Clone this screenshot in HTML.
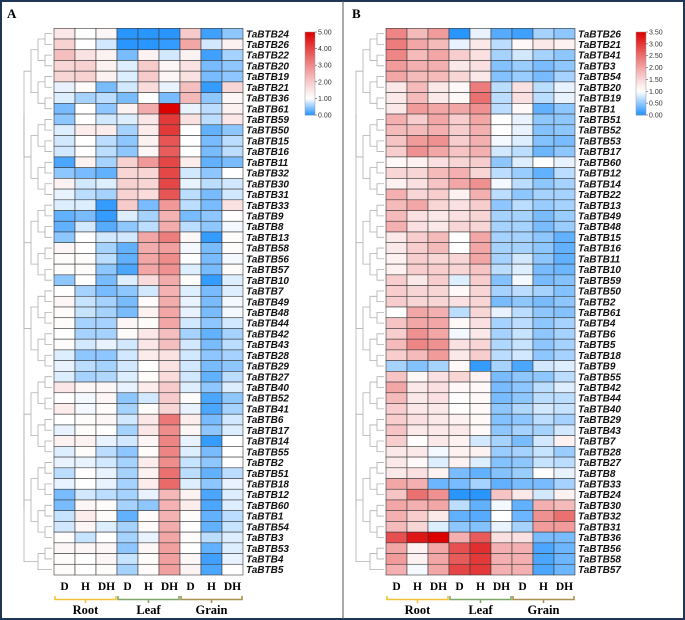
<!DOCTYPE html>
<html><head><meta charset="utf-8"><style>
body{margin:0;background:#fff}
svg{display:block}
</style></head><body>
<svg id="fig" width="685" height="620" xmlns="http://www.w3.org/2000/svg"></svg>
<script>
const genesA=["TaBTB24","TaBTB26","TaBTB22","TaBTB20","TaBTB19","TaBTB21","TaBTB36","TaBTB61","TaBTB59","TaBTB50","TaBTB15","TaBTB16","TaBTB11","TaBTB32","TaBTB30","TaBTB31","TaBTB33","TaBTB9","TaBTB8","TaBTB13","TaBTB58","TaBTB56","TaBTB57","TaBTB10","TaBTB7","TaBTB49","TaBTB48","TaBTB44","TaBTB42","TaBTB43","TaBTB28","TaBTB29","TaBTB27","TaBTB40","TaBTB52","TaBTB41","TaBTB6","TaBTB17","TaBTB14","TaBTB55","TaBTB2","TaBTB51","TaBTB18","TaBTB12","TaBTB60","TaBTB1","TaBTB54","TaBTB3","TaBTB53","TaBTB4","TaBTB5"];
const valuesA=[
[1.5,1.0,1.2,0.05,0.05,0.05,2.0,0.15,0.5],[1.9,1.0,0.8,0.05,0.05,0.1,2.6,0.8,1.3],[2.2,1.6,1.3,0.4,1.3,0.8,1.3,0.15,0.6],
[1.8,1.9,1.3,0.85,2.0,1.2,1.6,0.4,0.5],[1.8,1.9,1.3,0.85,2.0,1.2,1.6,0.4,0.5],[0.9,1.1,0.4,0.8,1.7,0.9,2.2,0.1,1.8],
[0.85,0.6,0.7,0.4,1.0,0.4,2.3,0.5,1.2],[0.4,1.0,0.5,1.3,2.5,5.0,0.9,0.7,1.3],[0.5,1.0,0.8,0.85,1.5,4.2,1.6,0.7,1.5],
[0.85,1.4,1.4,0.6,1.4,4.2,1.0,0.3,0.5],[0.8,1.0,0.7,0.5,1.3,3.8,1.0,0.4,0.7],[0.8,1.0,0.7,0.5,1.2,3.7,1.0,0.4,0.7],
[0.2,1.3,0.6,1.9,2.8,4.0,1.4,0.3,0.4],[0.5,0.4,0.3,1.8,1.8,4.0,0.8,0.5,1.0],[1.3,0.8,0.85,1.9,1.8,4.0,0.9,0.7,0.8],
[0.9,0.7,0.6,1.9,1.7,3.8,0.7,0.4,0.8],[0.85,0.85,0.1,2.0,0.4,2.8,0.7,0.4,1.6],[0.3,0.4,0.1,0.85,0.6,2.4,0.4,0.5,1.0],
[0.3,0.8,0.25,0.5,0.7,2.5,0.7,0.5,0.95],[0.5,1.0,0.8,0.8,2.6,3.2,1.2,0.1,1.1],[1.2,1.0,0.6,0.3,2.5,2.7,0.95,0.4,1.1],
[1.1,1.1,0.7,0.3,2.6,3.0,1.0,0.4,0.95],[1.1,1.1,0.5,0.2,2.6,2.9,0.85,0.4,1.1],[0.5,1.0,0.4,0.85,1.7,2.5,1.1,0.1,0.85],
[1.0,0.6,0.4,0.5,0.8,2.4,0.85,0.4,0.85],[1.2,0.75,0.6,0.4,1.1,2.5,0.9,0.4,0.95],[1.1,0.75,0.6,0.4,1.3,2.6,0.9,0.4,0.95],
[1.1,0.6,0.6,1.2,1.1,2.6,0.8,0.5,0.8],[1.0,0.6,0.6,1.1,1.5,2.2,0.6,0.3,0.6],[1.1,0.8,0.9,0.8,1.5,2.2,0.8,0.4,0.7],
[0.85,0.5,0.5,0.8,1.4,1.6,0.8,0.5,0.6],[0.9,0.7,0.6,0.8,1.0,1.6,0.8,0.4,0.5],[0.85,0.6,0.65,0.85,1.1,1.7,0.8,0.3,0.7],
[1.5,1.2,1.2,0.9,1.4,2.0,0.85,0.5,0.85],[1.0,0.95,1.2,0.5,0.8,2.0,1.1,0.2,0.5],[1.4,0.95,1.1,0.6,1.1,1.8,0.9,0.2,0.6],
[1.0,1.1,1.2,0.8,1.5,3.3,1.4,0.4,0.8],[0.9,1.1,1.0,0.6,1.5,3.0,1.2,0.5,0.85],[1.3,1.3,0.9,0.8,1.2,3.1,0.9,0.1,1.0],
[0.85,1.1,0.7,0.5,1.1,3.1,0.85,0.4,1.0],[0.9,0.9,0.8,0.6,1.4,3.0,0.75,0.5,1.0],[0.7,1.0,0.9,0.6,1.3,3.4,0.7,0.3,0.7],
[0.9,1.0,0.9,0.6,1.4,3.5,0.85,0.5,0.9],[0.4,0.8,0.7,0.6,0.9,2.3,1.3,0.2,0.85],[0.4,1.2,1.1,0.6,0.5,2.4,1.4,0.2,0.85],
[0.75,1.4,1.1,0.3,1.1,2.4,1.1,0.3,0.7],[0.8,1.2,0.85,0.6,1.1,2.5,1.0,0.3,0.75],[1.1,0.75,1.0,0.6,0.9,2.6,1.1,0.7,0.85],
[1.2,1.2,1.2,0.5,1.2,2.7,1.0,0.3,0.85],[1.1,1.0,1.2,0.75,1.1,2.7,1.2,0.15,0.9],[1.1,1.0,1.1,0.6,1.1,2.7,1.3,0.2,1.0]];
const genesB=["TaBTB26","TaBTB21","TaBTB41","TaBTB3","TaBTB54","TaBTB20","TaBTB19","TaBTB1","TaBTB51","TaBTB52","TaBTB53","TaBTB17","TaBTB60","TaBTB12","TaBTB14","TaBTB22","TaBTB13","TaBTB49","TaBTB48","TaBTB15","TaBTB16","TaBTB11","TaBTB10","TaBTB59","TaBTB50","TaBTB2","TaBTB61","TaBTB4","TaBTB6","TaBTB5","TaBTB18","TaBTB9","TaBTB55","TaBTB42","TaBTB44","TaBTB40","TaBTB29","TaBTB43","TaBTB7","TaBTB28","TaBTB27","TaBTB8","TaBTB33","TaBTB24","TaBTB30","TaBTB32","TaBTB31","TaBTB36","TaBTB56","TaBTB58","TaBTB57"];
const valuesB=[
[2.3,1.8,2.1,0.05,0.9,0.25,0.15,0.6,0.5],[2.4,2.0,1.8,0.9,1.3,0.7,1.1,1.3,1.2],[2.3,1.8,2.0,1.6,1.4,0.6,0.8,0.6,0.5],
[2.1,1.9,1.9,1.3,1.4,0.45,0.55,0.4,0.5],[2.0,1.8,1.8,1.5,1.3,0.45,0.55,0.4,0.6],[1.3,1.8,1.3,1.1,2.4,0.7,1.4,0.7,0.9],
[1.3,1.8,1.3,1.1,2.5,0.7,1.4,0.7,0.9],[1.3,2.1,2.0,2.0,2.2,0.7,1.1,0.3,0.5],[1.9,1.6,2.0,1.6,2.0,1.0,0.9,0.5,0.5],
[1.8,1.8,1.9,1.6,1.9,1.0,0.9,0.45,0.5],[1.7,2.1,2.2,1.6,1.9,0.95,0.85,0.45,0.4],[1.6,2.2,2.0,1.7,1.9,0.8,0.7,0.35,0.5],
[1.1,1.2,1.4,1.5,1.6,0.5,0.85,1.0,0.9],[1.5,1.5,1.8,1.9,1.5,0.7,0.55,0.3,0.7],[1.2,1.4,1.7,2.0,2.2,0.95,0.7,0.5,0.6],
[1.9,1.5,1.6,1.2,1.9,0.7,0.5,0.6,0.6],[1.8,2.0,1.5,1.4,1.6,0.5,0.7,0.55,0.6],[1.8,1.4,1.3,1.4,1.5,0.6,0.6,0.4,0.55],
[1.9,1.4,1.3,1.5,1.5,0.6,0.6,0.4,0.55],[1.3,1.6,1.8,1.0,2.0,0.6,0.6,0.5,0.3],[1.3,1.6,1.8,1.0,2.0,0.6,0.6,0.5,0.3],
[1.2,1.6,1.5,1.5,2.0,0.6,0.8,0.5,0.3],[1.2,1.6,1.6,1.5,1.7,0.7,0.85,0.4,0.35],[1.6,1.3,1.6,0.85,1.6,0.45,0.95,0.4,0.45],
[1.6,1.5,1.5,1.1,1.5,0.6,0.7,0.6,0.45],[1.6,1.5,1.5,1.4,1.5,0.4,0.5,0.4,0.5],[1.0,2.0,1.9,0.7,1.5,0.9,0.7,0.5,0.45],
[1.7,2.0,2.0,1.1,1.4,0.6,0.7,0.5,0.6],[1.6,2.2,2.0,0.95,1.3,0.6,0.75,0.5,0.6],[1.8,2.3,2.2,1.4,1.5,0.65,0.75,0.5,0.6],
[1.6,1.8,2.1,1.3,1.6,0.7,0.8,0.5,0.6],[0.6,0.45,0.6,1.1,0.1,0.6,0.2,0.8,0.85],[1.7,1.1,1.4,1.5,1.2,0.4,0.5,0.5,0.7],
[2.0,1.3,1.4,1.1,1.1,0.4,0.5,0.7,0.85],[1.8,1.3,1.4,1.0,1.1,0.4,0.5,0.7,0.7],[1.6,1.3,1.3,1.0,1.1,0.5,0.65,0.8,0.75],
[1.6,1.4,1.3,1.2,1.1,0.45,0.5,0.7,0.6],[1.7,1.3,1.3,1.3,1.1,0.5,0.6,0.6,0.8],[1.6,1.05,1.3,1.2,0.8,0.6,0.4,0.8,1.2],
[1.3,1.3,0.95,1.2,1.2,0.55,0.6,0.75,0.55],[1.3,1.1,0.85,1.2,0.85,0.45,0.5,0.75,0.7],[1.3,1.4,1.2,0.4,0.3,0.45,0.55,1.0,0.9],
[2.0,1.9,0.35,0.4,0.6,0.3,0.4,0.4,0.6],[1.7,2.5,2.2,0.05,0.05,1.7,1.3,0.8,1.2],[2.0,1.9,2.0,0.7,0.3,0.95,0.3,1.9,1.8],
[1.9,1.6,1.3,0.3,0.25,1.0,0.35,2.2,2.5],[1.8,1.5,0.85,0.5,0.45,0.9,0.6,2.1,2.1],[2.8,3.3,3.5,1.9,2.7,1.4,1.4,0.4,0.4],
[2.0,1.2,2.0,2.8,3.1,1.9,1.9,0.2,0.35],[2.1,1.2,2.0,2.7,3.0,1.9,1.9,0.2,0.35],[1.9,0.95,2.0,2.9,3.0,1.9,1.9,0.2,0.35]];
const colLabels=["D","H","DH","D","H","DH","D","H","DH"];
const groups=["Root","Leaf","Grain"];
const ticksA=["0.00","1.00","2.00","3.00","4.00","5.00"];
const ticksB=["0.00","0.50","1.00","1.50","2.00","2.50","3.00","3.50"];

const NS="http://www.w3.org/2000/svg";
const svg=document.getElementById('fig');
function mk(tag,attrs,parent){const e=document.createElementNS(NS,tag);for(const k in attrs)e.setAttribute(k,attrs[k]);(parent||svg).appendChild(e);return e;}
function color(v,max){const mid=1;let r,g,b;
 if(v<=mid){const t=Math.max(0,v)/mid;r=30+(255-30)*t;g=144+(255-144)*t;b=255;}
 else{const t=Math.pow(Math.min(1,(v-mid)/(max-mid)),1.15);r=255-(255-220)*t;g=255*(1-t);b=255*(1-t);}
 return `rgb(${r|0},${g|0},${b|0})`;}

let e=mk('rect',{x:1,y:1,width:683,height:618,fill:'none',stroke:'#1f3556','stroke-width':2});

e=mk('line',{x1:343,y1:1,x2:343,y2:619,stroke:'#555','stroke-width':1});


function panel(p){
 const g=mk('g',{});
 
 
 let t=mk('text',{x:p.letterX,y:18,'font-family':'Liberation Serif, serif','font-weight':'bold','font-size':13},g);t.textContent=p.id;
 
 const top=28.3,bottom=575,n=p.genes.length,rh=(bottom-top)/n,cw=(p.x1-p.x0)/9;
 const yOf=i=>top+i*rh, xOf=j=>p.x0+j*cw;
 p.vals.forEach((row,i)=>{row.forEach((v,j)=>{
  const r=mk('rect',{x:xOf(j),y:yOf(i),width:cw,height:rh,fill:color(v,p.max),stroke:'#3a3a3a','stroke-width':0.6},g);
  
  
 });
  const l=mk('text',{x:p.x1+3,y:yOf(i)+rh/2+3.6,'font-family':'Liberation Sans, sans-serif','font-weight':'bold','font-style':'italic','font-size':10,fill:'#111'},g);
  l.textContent=p.genes[i];
  
 });
 const dg=mk('g',{stroke:'#b0b0b0','stroke-width':0.8,fill:'none'},g);
 
 let nodes=p.genes.map((_,i)=>({y:yOf(i)+rh/2,x:p.x0-2}));
 let level=0;
 while(nodes.length>1){const nx=[];level++;
  for(let k=0;k<nodes.length;k+=2){
   if(k+1>=nodes.length){nx.push(nodes[k]);continue;}
   const a=nodes[k],b=nodes[k+1];const x=p.x0-2-Math.min(level*7,p.x0-p.dendL);
   mk('path',{d:`M${a.x},${a.y}H${x}V${b.y}H${b.x}`},dg);
   nx.push({y:(a.y+b.y)/2,x:x});}
  nodes=nx;}
 colLabels.forEach((c,j)=>{const t=mk('text',{x:xOf(j)+cw/2,y:590,'text-anchor':'middle','font-family':'Liberation Serif, serif','font-weight':'bold','font-size':11.5},g);
  t.textContent=c;});
 const gc=['#f2c23a','#7fa86a','#a89050'];
 groups.forEach((gn,k)=>{const xa=xOf(k*3)+1,xb=xOf(k*3+3)-1,xm=(xa+xb)/2;
  const br=mk('path',{d:`M${xa},596V599.5H${xb}V596M${xm},599.5V603`,stroke:gc[k],'stroke-width':1.6,fill:'none'},g);
  
  const t=mk('text',{x:xm,y:614,'text-anchor':'middle','font-family':'Liberation Serif, serif','font-weight':'bold','font-size':12.5},g);
  t.textContent=gn;});
 const cb=mk('g',{},g);
 const cy0=32,cy1=115,steps=60;
 for(let s=0;s<steps;s++){const v=p.max*(s+0.5)/steps;
  mk('rect',{x:p.cbx,y:cy1-(s+1)*(cy1-cy0)/steps,width:p.cbw,height:(cy1-cy0)/steps+0.4,fill:color(v,p.max)},cb);}
 mk('rect',{x:p.cbx,y:cy0,width:p.cbw,height:cy1-cy0,fill:'none',stroke:'#999','stroke-width':0.5},cb);
 p.ticks.forEach(tk=>{const v=parseFloat(tk),y=cy1-(v/p.max)*(cy1-cy0);
  mk('line',{x1:p.cbx+p.cbw,x2:p.cbx+p.cbw+2,y1:y,y2:y,stroke:'#555','stroke-width':0.6},cb);
  const t=mk('text',{x:p.cbx+p.cbw+3,y:y+2.5,'font-family':'Liberation Sans, sans-serif','font-size':7,fill:'#333'},cb);
  t.textContent=tk;});
}
panel({id:'A',letterX:7,genes:genesA,vals:valuesA,max:5,x0:54,x1:243,cbx:305,cbw:10,ticks:ticksA,dendL:26});
panel({id:'B',letterX:352,genes:genesB,vals:valuesB,max:3.5,x0:386,x1:575,cbx:636,cbw:10,ticks:ticksB,dendL:358});
</script>
</body></html>
